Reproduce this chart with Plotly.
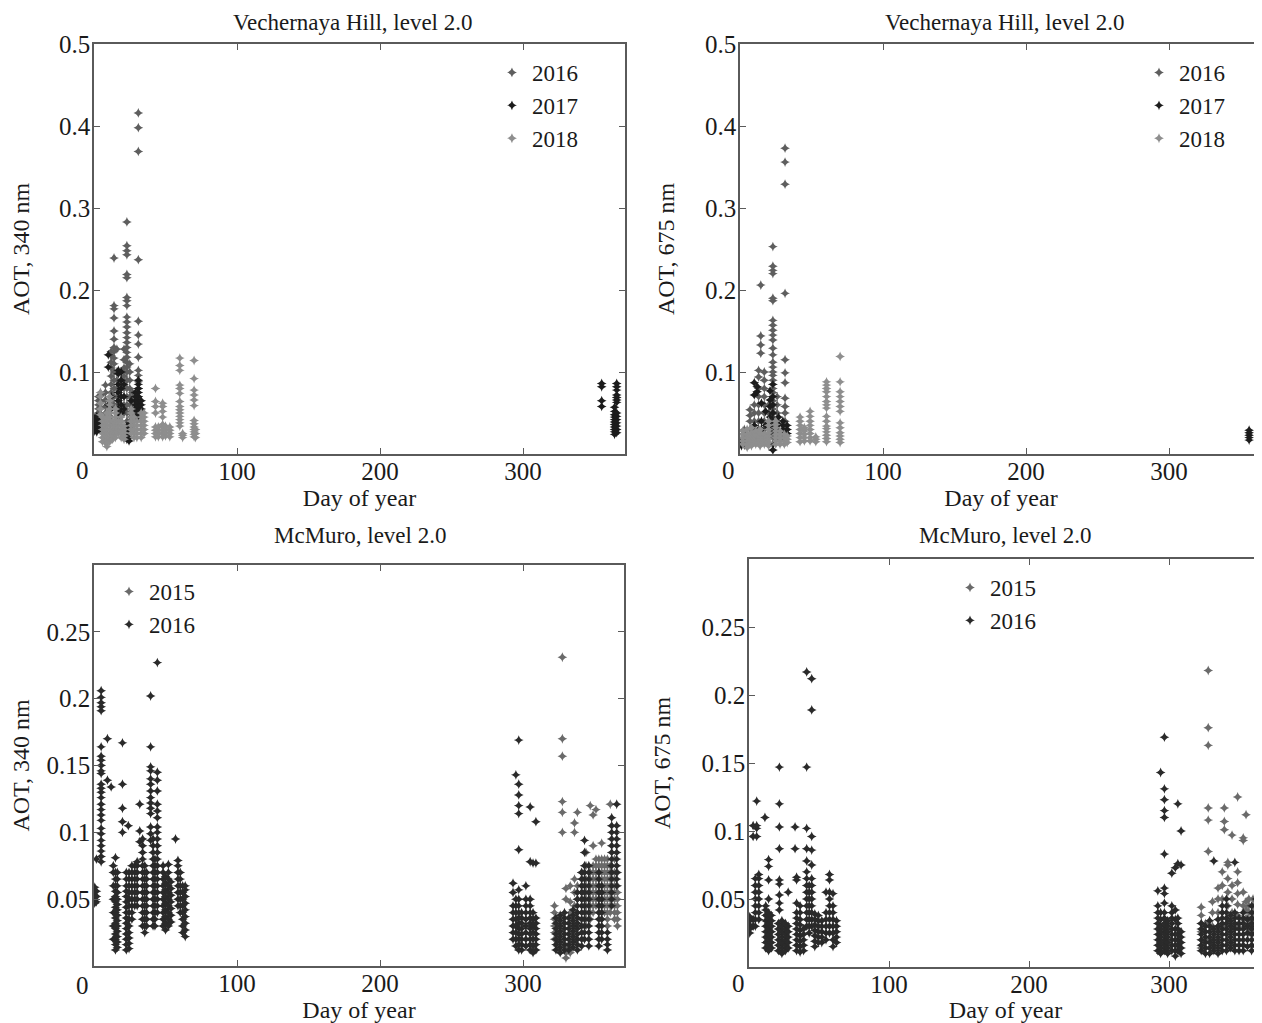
import plotly.graph_objects as go

# The page adds an 8 px body margin, so the figure is laid out in a 1254 x 1015 box
# and every reference pixel position p is converted with (p - 8).
W, H = 1254, 1015
OFF = 8
FONT = "Liberation Serif, Times New Roman, serif"

# ---------------- data: (day of year, [AOT values read for that day]) ----------------
# Vechernaya Hill, 340 nm
VH340_2016 = [
    (3, [0.046, 0.05, 0.055, 0.06, 0.065, 0.07]),
    (5, [0.04, 0.048, 0.056, 0.064, 0.072]),
    (8, [0.05, 0.058, 0.066, 0.075, 0.084]),
    (12, [0.045, 0.055, 0.065, 0.075, 0.085, 0.095, 0.105, 0.112, 0.12, 0.125]),
    (14, [0.06, 0.07, 0.08, 0.09, 0.1, 0.11, 0.117, 0.125, 0.13, 0.14, 0.15, 0.166, 0.177, 0.181, 0.239]),
    (16, [0.05, 0.06, 0.07, 0.08, 0.09, 0.1, 0.128]),
    (19, [0.04, 0.05, 0.06, 0.07, 0.08, 0.09, 0.1]),
    (21, [0.05, 0.06, 0.07, 0.08, 0.095, 0.105, 0.115, 0.128]),
    (23, [0.04, 0.05, 0.06, 0.07, 0.08, 0.09, 0.1, 0.106, 0.112, 0.118, 0.124, 0.13, 0.136, 0.142,
          0.148, 0.155, 0.161, 0.167, 0.181, 0.187, 0.191, 0.215, 0.219, 0.243, 0.248, 0.254, 0.283]),
    (25, [0.04, 0.05, 0.06, 0.07, 0.08, 0.09, 0.1, 0.11]),
    (27, [0.035, 0.045, 0.055, 0.065, 0.075]),
    (31, [0.05, 0.06, 0.07, 0.08, 0.088, 0.096, 0.102, 0.118, 0.134, 0.145, 0.162, 0.237, 0.369, 0.398, 0.416]),
]
VH340_2017 = [
    (0.5, [0.028, 0.032, 0.036, 0.04, 0.044]),
    (2, [0.027, 0.031, 0.035, 0.039, 0.043, 0.046]),
    (4, [0.03, 0.035, 0.04]),
    (10, [0.05, 0.06, 0.106, 0.121]),
    (12, [0.04, 0.055, 0.07]),
    (17, [0.045, 0.055, 0.065, 0.075, 0.085, 0.098, 0.102]),
    (19, [0.05, 0.06, 0.07, 0.08, 0.09, 0.1]),
    (21, [0.055, 0.07, 0.085]),
    (23, [0.018, 0.022, 0.026, 0.03, 0.034]),
    (24.5, [0.016, 0.02, 0.024, 0.028, 0.032, 0.036]),
    (26, [0.045, 0.055, 0.065]),
    (29, [0.045, 0.05, 0.055, 0.06, 0.065, 0.07, 0.075]),
    (31, [0.045, 0.05, 0.055, 0.06, 0.065, 0.07, 0.075, 0.08, 0.085, 0.09]),
    (33, [0.05, 0.055, 0.06, 0.065]),
    (355, [0.058, 0.065, 0.082, 0.086]),
    (364, [0.024, 0.027, 0.03, 0.033, 0.036, 0.039, 0.042, 0.045, 0.048, 0.052, 0.057]),
    (365.5, [0.026, 0.03, 0.034, 0.038, 0.042, 0.046, 0.05, 0.063, 0.066, 0.069, 0.072, 0.078, 0.082, 0.086]),
]
VH340_2018 = [
    (4.5, [0.048, 0.055, 0.062, 0.07, 0.075]),
    (6, [0.015, 0.02, 0.025, 0.03, 0.035, 0.04, 0.045]),
    (7.5, [0.015, 0.02, 0.025, 0.03, 0.035, 0.04]),
    (9, [0.009, 0.013, 0.017, 0.021, 0.025, 0.03, 0.035, 0.04, 0.045, 0.05]),
    (11, [0.015, 0.02, 0.025, 0.03, 0.035, 0.04, 0.045, 0.05, 0.055, 0.06, 0.065, 0.07]),
    (13, [0.018, 0.022, 0.026, 0.03, 0.035, 0.04]),
    (15, [0.02, 0.025, 0.03, 0.035, 0.04, 0.045, 0.05, 0.055]),
    (17, [0.025, 0.03, 0.035, 0.04]),
    (19, [0.02, 0.025, 0.03, 0.035, 0.04, 0.045]),
    (21, [0.018, 0.022, 0.026, 0.03, 0.034]),
    (26, [0.025, 0.03, 0.035, 0.04, 0.045, 0.05, 0.055]),
    (28, [0.02, 0.025, 0.03, 0.035, 0.04, 0.045]),
    (30, [0.02, 0.025, 0.03, 0.035, 0.04]),
    (33, [0.02, 0.025, 0.03, 0.035, 0.04, 0.045, 0.05]),
    (35, [0.025, 0.03, 0.035, 0.04, 0.045, 0.05]),
    (43, [0.021, 0.025, 0.029, 0.033, 0.05, 0.058, 0.064, 0.08]),
    (45, [0.021, 0.025, 0.029, 0.033]),
    (48, [0.021, 0.025, 0.029, 0.033, 0.036, 0.045, 0.052, 0.058, 0.062]),
    (50, [0.022, 0.026, 0.03, 0.034]),
    (53, [0.021, 0.025, 0.029, 0.033]),
    (60, [0.034, 0.038, 0.042, 0.046, 0.05, 0.054, 0.058, 0.064, 0.074, 0.08, 0.084, 0.102, 0.108, 0.117]),
    (62, [0.02, 0.023, 0.025]),
    (70, [0.021, 0.024, 0.027, 0.03, 0.033, 0.037, 0.041, 0.059, 0.066, 0.072, 0.078, 0.092, 0.114]),
    (71, [0.02, 0.025, 0.03]),
]

# Vechernaya Hill, 675 nm
VH675_2016 = [
    (3, [0.015, 0.02, 0.025, 0.03]),
    (7, [0.02, 0.03, 0.04, 0.047, 0.054]),
    (10, [0.02, 0.03, 0.04, 0.05, 0.06]),
    (13, [0.02, 0.03, 0.04, 0.05, 0.06, 0.07, 0.08, 0.094, 0.102]),
    (14.5, [0.123, 0.133, 0.144, 0.206]),
    (17, [0.02, 0.03, 0.04, 0.05, 0.06, 0.07, 0.08, 0.09, 0.1]),
    (20, [0.03, 0.04, 0.05, 0.06]),
    (23, [0.02, 0.025, 0.03, 0.035, 0.04, 0.045, 0.05, 0.055, 0.06, 0.065, 0.07, 0.075, 0.08, 0.085,
          0.09, 0.096, 0.1, 0.106, 0.112, 0.121, 0.129, 0.139, 0.145, 0.151, 0.157, 0.163, 0.187, 0.19,
          0.22, 0.224, 0.229, 0.253]),
    (26, [0.02, 0.03, 0.04, 0.05, 0.06, 0.07]),
    (31.5, [0.02, 0.03, 0.04, 0.05, 0.058, 0.068, 0.087, 0.099, 0.115, 0.196, 0.329, 0.356, 0.373]),
    (364, [0.05, 0.068]),
]
VH675_2017 = [
    (1, [0.01, 0.013, 0.016]),
    (3, [0.011, 0.014, 0.017]),
    (10, [0.035, 0.072, 0.087]),
    (12, [0.02, 0.028, 0.076, 0.082]),
    (15, [0.03, 0.04, 0.062]),
    (18, [0.02, 0.035, 0.052]),
    (21, [0.025, 0.035, 0.045, 0.058, 0.066, 0.077]),
    (23, [0.005, 0.012, 0.03, 0.04, 0.05, 0.06, 0.07, 0.085]),
    (27, [0.02, 0.028, 0.036, 0.045]),
    (30, [0.02, 0.025, 0.03, 0.035, 0.04]),
    (33, [0.025, 0.03, 0.035]),
    (356, [0.017, 0.02, 0.023, 0.026, 0.029]),
    (364, [0.014, 0.018, 0.022, 0.026, 0.03, 0.034, 0.045, 0.058]),
]
VH675_2018 = [
    (2, [0.012, 0.016, 0.02, 0.024, 0.028]),
    (5, [0.008, 0.012, 0.016, 0.02, 0.024, 0.03]),
    (8, [0.01, 0.014, 0.018, 0.022, 0.026, 0.032]),
    (11, [0.012, 0.016, 0.02, 0.024, 0.028]),
    (14, [0.01, 0.014, 0.018, 0.022, 0.026, 0.03]),
    (17, [0.012, 0.016, 0.02, 0.024]),
    (20, [0.01, 0.014, 0.018, 0.022, 0.026, 0.03, 0.035, 0.04]),
    (25, [0.012, 0.016, 0.02, 0.024, 0.028, 0.032, 0.036, 0.04]),
    (28, [0.012, 0.016, 0.02, 0.024, 0.028]),
    (31, [0.012, 0.016, 0.02, 0.024]),
    (33, [0.014, 0.018, 0.022]),
    (42, [0.015, 0.02, 0.025, 0.03, 0.035, 0.04, 0.045]),
    (45, [0.016, 0.02, 0.024, 0.028, 0.032]),
    (49, [0.016, 0.02, 0.025, 0.03, 0.035, 0.04, 0.046, 0.052]),
    (53, [0.015, 0.018, 0.021]),
    (60.5, [0.015, 0.019, 0.023, 0.027, 0.031, 0.034, 0.04, 0.046, 0.056, 0.06, 0.064, 0.07, 0.076,
            0.08, 0.084, 0.088]),
    (70, [0.014, 0.018, 0.022, 0.026, 0.032, 0.038, 0.052, 0.058, 0.064, 0.07, 0.076, 0.088, 0.119]),
]

# McMurdo, 340 nm
MM340_2015 = [
    (322, [0.02, 0.025, 0.03, 0.035, 0.04, 0.045]),
    (324, [0.015, 0.02, 0.025, 0.03]),
    (327.5, [0.1, 0.115, 0.123, 0.157, 0.17, 0.231]),
    (330, [0.006, 0.01, 0.015, 0.05, 0.058]),
    (333, [0.01, 0.014, 0.04, 0.048, 0.06]),
    (336, [0.02, 0.03, 0.045, 0.055, 0.065, 0.1, 0.107]),
    (338, [0.04, 0.05, 0.06, 0.115]),
    (341, [0.05, 0.055, 0.06, 0.065, 0.07]),
    (344, [0.03, 0.035, 0.04, 0.045, 0.05, 0.055, 0.06, 0.065, 0.075, 0.085]),
    (347, [0.035, 0.04, 0.045, 0.05, 0.055, 0.06, 0.065, 0.07, 0.12]),
    (349, [0.04, 0.045, 0.05, 0.055, 0.06, 0.065, 0.07, 0.075, 0.09, 0.113]),
    (351, [0.045, 0.05, 0.055, 0.06, 0.065, 0.07, 0.075, 0.08, 0.117]),
    (353, [0.04, 0.045, 0.05, 0.055, 0.06, 0.065, 0.07, 0.075, 0.08]),
    (355, [0.035, 0.04, 0.045, 0.05, 0.055, 0.06, 0.065, 0.07, 0.075, 0.08, 0.092]),
    (357, [0.04, 0.045, 0.05, 0.055, 0.06, 0.065, 0.07, 0.075, 0.08]),
    (359, [0.03, 0.035, 0.04, 0.045, 0.05, 0.055, 0.06, 0.065, 0.07, 0.075, 0.08]),
    (361, [0.04, 0.045, 0.05, 0.055, 0.06, 0.065, 0.07, 0.075, 0.121]),
    (364, [0.035, 0.04, 0.045, 0.05, 0.055, 0.06, 0.065, 0.07, 0.08]),
    (366, [0.03, 0.035, 0.04, 0.045, 0.05, 0.055, 0.06, 0.07]),
]
MM340_2016 = [
    (0.5, [0.047, 0.05, 0.053, 0.056, 0.059]),
    (1.7, [0.048, 0.052, 0.056, 0.08]),
    (5, [0.078, 0.082, 0.086, 0.09, 0.094, 0.099, 0.103, 0.109, 0.113, 0.117, 0.121, 0.126, 0.13, 0.133,
         0.136, 0.144, 0.146, 0.15, 0.154, 0.157, 0.164, 0.191, 0.194, 0.197, 0.201, 0.206]),
    (9.4, [0.139, 0.17]),
    (12, [0.134]),
    (13.5, [0.02, 0.03, 0.04, 0.05, 0.06, 0.07, 0.075]),
    (15, [0.012, 0.016, 0.02, 0.024, 0.028, 0.032, 0.036, 0.04, 0.044, 0.048, 0.052, 0.056, 0.06,
          0.065, 0.07, 0.081]),
    (16.3, [0.014, 0.018, 0.022, 0.026, 0.03, 0.034, 0.038, 0.042, 0.046, 0.05, 0.055, 0.06, 0.065, 0.07]),
    (19.9, [0.1, 0.108, 0.118, 0.136, 0.167]),
    (22.6, [0.012, 0.016, 0.02, 0.024, 0.028, 0.032, 0.036, 0.04, 0.044, 0.048, 0.052, 0.056, 0.06,
            0.065, 0.07]),
    (24, [0.105]),
    (24.5, [0.013, 0.017, 0.021, 0.025, 0.03, 0.035, 0.04, 0.045, 0.05, 0.055, 0.06, 0.065, 0.07]),
    (26.5, [0.035, 0.04, 0.045, 0.05, 0.055, 0.06, 0.065, 0.07, 0.075]),
    (28.5, [0.045, 0.05, 0.055, 0.06, 0.065, 0.07, 0.075]),
    (30.2, [0.045, 0.05, 0.055, 0.06, 0.065, 0.07, 0.075, 0.078]),
    (32, [0.093, 0.101, 0.121]),
    (34, [0.03, 0.035, 0.04, 0.045, 0.05, 0.055, 0.06, 0.065, 0.07, 0.075, 0.08, 0.085, 0.09, 0.095]),
    (35.5, [0.025, 0.03, 0.035, 0.04, 0.045, 0.05, 0.055, 0.06, 0.065, 0.07, 0.075]),
    (36.8, [0.03, 0.035, 0.04, 0.045, 0.05, 0.055, 0.06, 0.065, 0.07]),
    (39.6, [0.094, 0.099, 0.104, 0.114, 0.118, 0.122, 0.126, 0.131, 0.136, 0.14, 0.146, 0.149, 0.164, 0.202]),
    (41.3, [0.03, 0.035, 0.04, 0.045, 0.05, 0.055, 0.06, 0.065, 0.07, 0.075, 0.08, 0.085, 0.09, 0.095]),
    (42.6, [0.03, 0.035, 0.04, 0.045, 0.05, 0.055, 0.06, 0.065, 0.07, 0.075, 0.08]),
    (44.3, [0.04, 0.045, 0.05, 0.055, 0.06, 0.065, 0.07, 0.075, 0.08, 0.085, 0.09, 0.095, 0.1, 0.104,
            0.111, 0.116, 0.121, 0.131, 0.139, 0.145, 0.227]),
    (48.3, [0.03, 0.035, 0.04, 0.045, 0.05, 0.055, 0.06, 0.065, 0.07, 0.075]),
    (50, [0.027, 0.032, 0.037, 0.042, 0.047, 0.052, 0.057, 0.062, 0.067]),
    (52, [0.03, 0.035, 0.04, 0.045, 0.05, 0.055, 0.06, 0.065, 0.07, 0.076]),
    (53.8, [0.033, 0.038, 0.043, 0.048, 0.053, 0.058, 0.063]),
    (57, [0.095]),
    (58.7, [0.045, 0.05, 0.055, 0.06, 0.065, 0.07, 0.075, 0.079]),
    (60.3, [0.04, 0.045, 0.05, 0.055, 0.06, 0.065, 0.07]),
    (62, [0.025, 0.03, 0.035, 0.04, 0.045, 0.05, 0.055, 0.06]),
    (63.8, [0.022, 0.027, 0.032, 0.037, 0.042, 0.047, 0.052, 0.057, 0.06]),
    (293, [0.02, 0.025, 0.03, 0.035, 0.04, 0.045, 0.055, 0.062]),
    (295, [0.015, 0.02, 0.025, 0.03, 0.035, 0.04, 0.045, 0.05, 0.143]),
    (297, [0.012, 0.016, 0.02, 0.024, 0.028, 0.032, 0.036, 0.04, 0.045, 0.05, 0.057, 0.087, 0.114,
           0.12, 0.128, 0.136, 0.169]),
    (299, [0.012, 0.016, 0.02, 0.024, 0.028, 0.032, 0.036, 0.04]),
    (302, [0.015, 0.02, 0.025, 0.03, 0.035, 0.04, 0.045, 0.05, 0.06]),
    (305, [0.012, 0.016, 0.02, 0.024, 0.028, 0.032, 0.036, 0.04, 0.045, 0.05, 0.078, 0.119]),
    (307, [0.01, 0.015, 0.02, 0.025, 0.03, 0.035, 0.04, 0.077]),
    (309, [0.012, 0.016, 0.02, 0.024, 0.028, 0.032, 0.036, 0.077, 0.108]),
    (323, [0.012, 0.016, 0.02, 0.024, 0.028, 0.032, 0.036]),
    (326, [0.01, 0.014, 0.018, 0.022, 0.026, 0.03, 0.034, 0.038]),
    (329, [0.012, 0.016, 0.02, 0.024, 0.028, 0.032, 0.036, 0.04]),
    (332, [0.012, 0.016, 0.02, 0.024, 0.028, 0.032, 0.036]),
    (335, [0.014, 0.018, 0.022, 0.026, 0.03, 0.034, 0.038, 0.042]),
    (338, [0.012, 0.016, 0.02, 0.024, 0.028, 0.032, 0.036, 0.04, 0.045, 0.05, 0.055]),
    (341, [0.015, 0.02, 0.025, 0.03, 0.035, 0.04, 0.045, 0.05, 0.055, 0.06, 0.065, 0.07]),
    (343, [0.02, 0.025, 0.03, 0.035, 0.04, 0.045, 0.05, 0.055, 0.06, 0.065, 0.07, 0.075, 0.085, 0.094]),
    (346, [0.015, 0.02, 0.025, 0.03, 0.035, 0.04, 0.045, 0.05, 0.055, 0.06, 0.065, 0.07, 0.075]),
    (353, [0.015, 0.02, 0.025, 0.03, 0.035, 0.04, 0.045, 0.05, 0.055, 0.06, 0.065, 0.07]),
    (355, [0.02, 0.025, 0.03, 0.035, 0.04, 0.045, 0.05, 0.055, 0.06]),
    (359, [0.012, 0.016, 0.02, 0.025]),
    (362, [0.045, 0.05, 0.055, 0.06, 0.065, 0.07, 0.075, 0.08, 0.085, 0.09, 0.095, 0.1, 0.105, 0.111]),
    (365.5, [0.06, 0.065, 0.07, 0.075, 0.08, 0.085, 0.09, 0.095, 0.1, 0.105, 0.121]),
]

# McMurdo, 675 nm
MM675_2015 = [
    (323, [0.014, 0.02, 0.026, 0.032, 0.038, 0.044]),
    (326, [0.014, 0.02, 0.026, 0.032]),
    (328, [0.085, 0.108, 0.117, 0.163, 0.176, 0.218]),
    (331, [0.015, 0.02, 0.03, 0.04, 0.048]),
    (335, [0.02, 0.03, 0.04, 0.05, 0.058]),
    (338, [0.03, 0.04, 0.05, 0.06, 0.07]),
    (339.5, [0.101, 0.107, 0.117]),
    (342, [0.035, 0.045, 0.055, 0.065, 0.075, 0.077]),
    (345, [0.03, 0.04, 0.05, 0.06, 0.097]),
    (349, [0.03, 0.038, 0.046, 0.054, 0.062, 0.07, 0.125]),
    (353, [0.035, 0.045, 0.055, 0.093, 0.095]),
    (355, [0.03, 0.036, 0.042, 0.048, 0.112]),
    (357, [0.025, 0.03, 0.035, 0.04, 0.045, 0.05]),
    (360, [0.025, 0.03, 0.035, 0.04, 0.045, 0.05]),
    (363, [0.025, 0.03, 0.035, 0.04, 0.045]),
    (365, [0.025, 0.03, 0.035, 0.04, 0.045, 0.05]),
]
MM675_2016 = [
    (0.5, [0.025, 0.028, 0.031, 0.034, 0.037]),
    (3, [0.03, 0.035, 0.096, 0.104]),
    (4.5, [0.03, 0.035, 0.04, 0.045, 0.05, 0.055, 0.06, 0.065]),
    (5.5, [0.096, 0.102, 0.104, 0.122]),
    (7, [0.035, 0.04, 0.045, 0.05, 0.055, 0.06, 0.065, 0.068]),
    (11.4, [0.11]),
    (12, [0.014, 0.018, 0.022, 0.026, 0.03, 0.034, 0.038, 0.042, 0.045]),
    (14, [0.012, 0.016, 0.02, 0.024, 0.028, 0.032, 0.036, 0.04, 0.05, 0.064, 0.074, 0.079]),
    (16, [0.014, 0.018, 0.022, 0.026, 0.03, 0.034, 0.038]),
    (21, [0.012, 0.016, 0.02, 0.024, 0.028, 0.032]),
    (21.7, [0.042, 0.047, 0.053, 0.061, 0.064, 0.087, 0.103, 0.12, 0.147]),
    (23.5, [0.01, 0.014, 0.018, 0.022, 0.026, 0.03, 0.034]),
    (26, [0.012, 0.016, 0.02, 0.024, 0.028, 0.032]),
    (28, [0.014, 0.018, 0.022, 0.026, 0.03, 0.055]),
    (32.9, [0.087, 0.103]),
    (34, [0.012, 0.016, 0.02, 0.024, 0.028, 0.032, 0.036, 0.04, 0.047, 0.064, 0.066]),
    (36.5, [0.011, 0.015, 0.019, 0.023, 0.027, 0.031, 0.035, 0.04, 0.045]),
    (39, [0.012, 0.016, 0.02, 0.024, 0.028]),
    (41.2, [0.03, 0.035, 0.04, 0.045, 0.05, 0.055, 0.06, 0.065, 0.07, 0.078, 0.087, 0.102, 0.147, 0.217]),
    (43, [0.025, 0.03, 0.035, 0.04, 0.045, 0.05, 0.055, 0.06]),
    (44.8, [0.03, 0.035, 0.04, 0.045, 0.05, 0.055, 0.06, 0.065, 0.075, 0.086, 0.096, 0.189, 0.212]),
    (47, [0.015, 0.019, 0.023, 0.027, 0.031, 0.035, 0.039]),
    (49.5, [0.018, 0.022, 0.026, 0.03, 0.034, 0.038]),
    (52, [0.018, 0.022, 0.026, 0.03, 0.034]),
    (55, [0.02, 0.025, 0.03, 0.035, 0.04, 0.055]),
    (57.5, [0.025, 0.03, 0.035, 0.04, 0.045, 0.05, 0.055, 0.064, 0.068]),
    (60, [0.015, 0.02, 0.025, 0.03, 0.035, 0.04, 0.045, 0.054]),
    (62.5, [0.018, 0.022, 0.026, 0.03, 0.034]),
    (292, [0.012, 0.016, 0.02, 0.024, 0.028, 0.032, 0.036, 0.04, 0.045, 0.056]),
    (294, [0.01, 0.014, 0.018, 0.022, 0.026, 0.03, 0.035, 0.04, 0.143]),
    (296.7, [0.012, 0.016, 0.02, 0.024, 0.028, 0.032, 0.036, 0.04, 0.047, 0.054, 0.058, 0.083, 0.11,
             0.115, 0.123, 0.131, 0.169]),
    (299, [0.01, 0.014, 0.018, 0.022, 0.026, 0.03, 0.034]),
    (302, [0.012, 0.016, 0.02, 0.024, 0.028, 0.032, 0.036, 0.04, 0.045, 0.069]),
    (304.5, [0.008, 0.012, 0.016, 0.02, 0.024, 0.028, 0.035, 0.042, 0.073]),
    (306.3, [0.012, 0.016, 0.02, 0.024, 0.028, 0.032, 0.036, 0.076, 0.12]),
    (308.6, [0.01, 0.014, 0.018, 0.022, 0.026, 0.075, 0.1]),
    (323, [0.012, 0.016, 0.02, 0.024, 0.028, 0.032]),
    (326, [0.01, 0.014, 0.018, 0.022, 0.026, 0.03]),
    (329, [0.01, 0.014, 0.018, 0.022, 0.026, 0.03, 0.034]),
    (332, [0.012, 0.016, 0.02, 0.024, 0.028, 0.078]),
    (335, [0.01, 0.014, 0.018, 0.022, 0.026, 0.03, 0.035]),
    (338, [0.012, 0.016, 0.02, 0.024, 0.028, 0.032, 0.036, 0.04, 0.045]),
    (341, [0.012, 0.016, 0.02, 0.024, 0.028, 0.032, 0.036, 0.04, 0.045, 0.05]),
    (344, [0.014, 0.018, 0.022, 0.026, 0.03, 0.034, 0.038]),
    (347, [0.012, 0.016, 0.02, 0.024, 0.028, 0.032, 0.036, 0.04, 0.077]),
    (350, [0.012, 0.016, 0.02, 0.024, 0.028, 0.032, 0.036]),
    (353, [0.012, 0.016, 0.02, 0.024, 0.028, 0.032, 0.036, 0.04]),
    (356, [0.015, 0.02, 0.025, 0.03, 0.035]),
    (359, [0.012, 0.016, 0.02, 0.024, 0.028, 0.032, 0.036, 0.04, 0.045]),
    (362, [0.015, 0.02, 0.025, 0.03, 0.035, 0.04, 0.045, 0.05]),
    (365, [0.015, 0.02, 0.025, 0.03, 0.035, 0.04, 0.045, 0.078]),
]

YEARS_VH = ["2016", "2017", "2018"]
YEARS_MM = ["2015", "2016"]
COLORS_VH = ["#5e5e5e", "#1c1c1c", "#8e8e8e"]
COLORS_MM = ["#6a6a6a", "#2a2a2a"]

X_TICKS = [100, 200, 300]
Y_TICKS_VH = [0.1, 0.2, 0.3, 0.4, 0.5]
Y_TICKS_MM = [0.05, 0.1, 0.15, 0.2, 0.25]

TITLES = ["Vechernaya Hill, level 2.0", "Vechernaya Hill, level 2.0",
          "McMuro, level 2.0", "McMuro, level 2.0"]
Y_TITLES = ["AOT, 340 nm", "AOT, 675 nm", "AOT, 340 nm", "AOT, 675 nm"]
X_TITLE = "Day of year"


def expand(series):
    xs, ys = [], []
    for day, vals in series:
        for v in vals:
            xs.append(day)
            ys.append(v)
    return xs, ys


def fx(p):
    return min(1.0, (p - OFF) / W)


def fy(p):
    return 1 - (p - OFF) / H


# panel geometry in reference pixels: (left, right, top, bottom), axis ranges
panels = [
    dict(box=(94, 625, 44, 454), xmax=371.3, ymax=0.5, yt=Y_TICKS_VH,
         series=[VH340_2016, VH340_2017, VH340_2018], years=YEARS_VH, colors=COLORS_VH,
         legend=(492, 51)),
    dict(box=(740, 1262, 44, 454), xmax=365.0, ymax=0.5, yt=Y_TICKS_VH,
         series=[VH675_2016, VH675_2017, VH675_2018], years=YEARS_VH, colors=COLORS_VH,
         legend=(1139, 51)),
    dict(box=(94, 624, 565, 966), xmax=370.6, ymax=0.3, yt=Y_TICKS_MM,
         series=[MM340_2015, MM340_2016], years=YEARS_MM, colors=COLORS_MM,
         legend=(109, 570)),
    dict(box=(749, 1262, 559, 967), xmax=366.4, ymax=0.3, yt=Y_TICKS_MM,
         series=[MM675_2015, MM675_2016], years=YEARS_MM, colors=COLORS_MM,
         legend=(950, 566)),
]

fig = go.Figure()
layout = dict(
    template="none",
    width=W, height=H, margin=dict(l=0, r=0, t=0, b=0, autoexpand=False),
    paper_bgcolor="white", plot_bgcolor="white",
    font=dict(family=FONT, size=23, color="#1a1a1a"),
    annotations=[],
)

title_pos = [(353, 22), (1005, 22), (360, 535), (1005, 535)]
zero_pos = [(82, 470), (728, 470), (82, 985), (738, 983)]

for i, p in enumerate(panels):
    n = "" if i == 0 else str(i + 1)
    L, R, T, B = p["box"]
    xa, ya = "x" + n, "y" + n
    leg = "legend" + n
    for s, yr, col in zip(p["series"], p["years"], p["colors"]):
        xs, ys = expand(s)
        fig.add_trace(go.Scatter(
            x=xs, y=ys, mode="markers", name=yr,
            marker=dict(symbol="star-diamond", size=7, color=col, line=dict(width=0)),
            xaxis=xa, yaxis=ya, legend=leg, legendgroup=f"p{i}_{yr}",
            hoverinfo="x+y",
        ))
    axis_common = dict(
        showgrid=False, zeroline=False, showline=True, linecolor="#5a5a5a", linewidth=1.5,
        mirror="ticks", ticks="inside", ticklen=6, tickwidth=1.2, tickcolor="#5a5a5a",
        tickfont=dict(family=FONT, size=25, color="#1a1a1a"), automargin=False,
    )
    layout["xaxis" + n] = dict(
        axis_common, domain=[fx(L), fx(R)], range=[0, p["xmax"]], anchor=ya,
        tickmode="array", tickvals=X_TICKS, ticktext=[str(t) for t in X_TICKS],
        ticklabelstandoff=-6,
        title=dict(text=X_TITLE, standoff=0, font=dict(family=FONT, size=24)),
    )
    layout["yaxis" + n] = dict(
        axis_common, domain=[fy(B), fy(T)], range=[0, p["ymax"]], anchor=xa,
        tickmode="array", tickvals=p["yt"], ticktext=[f"{t:g}" for t in p["yt"]],
        ticklabelstandoff=-3,
        title=dict(text=Y_TITLES[i], standoff=24, font=dict(family=FONT, size=24)),
    )
    lx, ly = p["legend"]
    layout[leg] = dict(
        x=fx(lx), y=fy(ly), xanchor="left", yanchor="top", bgcolor="rgba(0,0,0,0)",
        borderwidth=0, font=dict(family=FONT, size=23, color="#1a1a1a"),
        traceorder="grouped", tracegroupgap=0, itemwidth=30, itemsizing="trace",
    )
    tx, ty = title_pos[i]
    layout["annotations"].append(dict(
        text=TITLES[i], x=fx(tx), y=fy(ty), xref="paper", yref="paper",
        xanchor="center", yanchor="middle", showarrow=False,
        font=dict(family=FONT, size=23, color="#1a1a1a")))
    zx, zy = zero_pos[i]
    layout["annotations"].append(dict(
        text="0", x=fx(zx), y=fy(zy), xref="paper", yref="paper",
        xanchor="center", yanchor="middle", showarrow=False,
        font=dict(family=FONT, size=25, color="#1a1a1a")))

fig.update_layout(**layout)
fig.write_html("out.html")
